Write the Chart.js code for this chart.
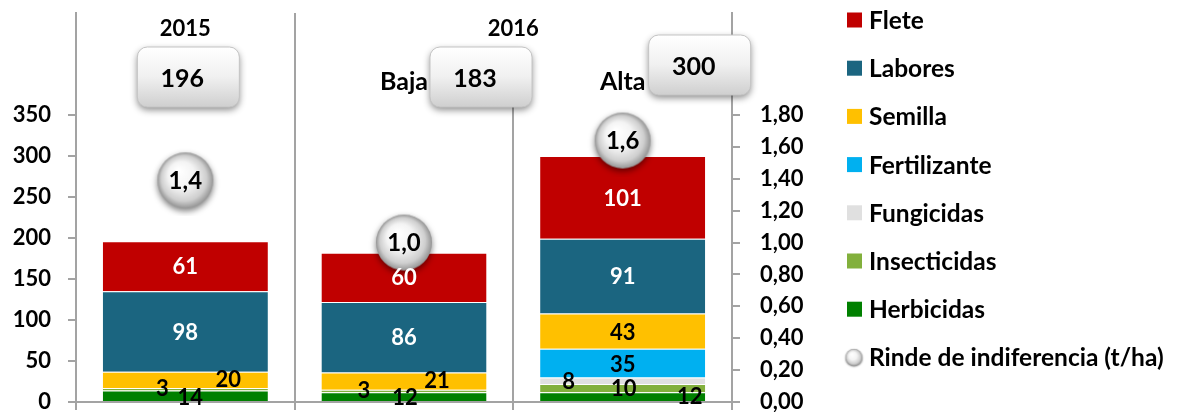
<!DOCTYPE html>
<html lang="es">
<head>
<meta charset="utf-8">
<title>Costos e indiferencia</title>
<script src="https://cdn.jsdelivr.net/npm/chart.js@4.4.1/dist/chart.umd.min.js"></script>
<style>
  html, body { margin: 0; padding: 0; background: #ffffff; }
  #wrap { width: 1184px; height: 412px; }
</style>
</head>
<body>
<div id="wrap"><canvas id="costChart" width="1184" height="412"></canvas></div>
<script>
// ============================================================================
// DATA
// ============================================================================

const categories = ['2015', 'Baja', 'Alta'];

const herbicidas = [14, 12, 12];
const insecticidas = [3, 3, 10];
const fungicidas = [0, 0, 8];
const fertilizante = [0, 0, 35];
const semilla = [20, 21, 43];
const labores = [98, 86, 91];
const flete = [61, 60, 101];

const totals = [196, 183, 300];
const rindeIndiferencia = [1.39, 1.0, 1.64];

const leftTickTop = 350;   // last labelled tick, left axis
const rightTickTop = 1.8;  // last labelled tick, right axis

// ============================================================================
// STYLE
// ============================================================================

const FONT = 'Lato, "Open Sans", sans-serif';
const AXIS_GREY = '#a3a3a3';

// nudges for the small segment labels, [dx, dy] from the segment centre
const labelNudge = {
  'Herbicidas-0': [5, 2], 'Insecticidas-0': [-23, 0], 'Semilla-0': [43, 0],
  'Herbicidas-1': [1, 1], 'Insecticidas-1': [-40, 0], 'Semilla-1': [33, 0],
  'Herbicidas-2': [67, 0], 'Insecticidas-2': [1, 1], 'Fungicidas-2': [-54, 1],
  'Fertilizante-2': [0, 2], 'Semilla-2': [0, 2]
};

/**
 * Build a shaded sphere image used as point style
 * @param {number} r - sphere radius
 * @returns {HTMLCanvasElement}
 */
function makeSphere(r) {
  const size = Math.ceil(r * 2 + 16);
  const c = document.createElement('canvas');
  c.width = size;
  c.height = size;
  const g = c.getContext('2d');
  const cx = size / 2, cy = size / 2;
  g.save();
  g.shadowColor = 'rgba(0,0,0,0.5)';
  g.shadowBlur = r * 0.22;
  g.shadowOffsetY = r * 0.1;
  const grad = g.createRadialGradient(cx - r * 0.25, cy - r * 0.35, r * 0.05, cx, cy, r);
  grad.addColorStop(0, '#ffffff');
  grad.addColorStop(0.45, '#f4f4f4');
  grad.addColorStop(0.8, '#cfcfcf');
  grad.addColorStop(1, '#959595');
  g.fillStyle = grad;
  g.beginPath();
  g.arc(cx, cy, r, 0, Math.PI * 2);
  g.fill();
  g.restore();
  return c;
}

const bigSphere = makeSphere(28);
const smallSphere = makeSphere(8.5);

/**
 * Rounded, shaded box with a number in it
 */
function drawTotalBox(ctx, cx, cy, text) {
  const w = 102, h = 60, r = 10;
  const x = cx - w / 2, y = cy - h / 2;
  ctx.save();
  ctx.shadowColor = 'rgba(0,0,0,0.45)';
  ctx.shadowBlur = 7;
  ctx.shadowOffsetY = 3;
  const grad = ctx.createLinearGradient(0, y, 0, y + h);
  grad.addColorStop(0, '#ffffff');
  grad.addColorStop(0.5, '#f0f0f0');
  grad.addColorStop(1, '#cfcfcf');
  ctx.fillStyle = grad;
  ctx.beginPath();
  ctx.roundRect(x, y, w, h, r);
  ctx.fill();
  ctx.restore();
  ctx.save();
  ctx.strokeStyle = '#c4c4c4';
  ctx.lineWidth = 1;
  ctx.beginPath();
  ctx.roundRect(x, y, w, h, r);
  ctx.stroke();
  ctx.fillStyle = '#000000';
  ctx.font = 'bold 25px ' + FONT;
  ctx.textAlign = 'center';
  ctx.textBaseline = 'middle';
  ctx.fillText(text, cx - 6, cy + 2);
  ctx.restore();
}

// ============================================================================
// PLUGIN: labels, headers, totals and legend
// ============================================================================

const decorPlugin = {
  id: 'decor',
  afterDatasetsDraw(chart) {
    const ctx = chart.ctx;
    const xScale = chart.scales.x;
    const xs = categories.map((_, i) => xScale.getPixelForValue(i));

    ctx.save();
    ctx.textAlign = 'center';
    ctx.textBaseline = 'middle';
    ctx.font = 'bold 22px ' + FONT;

    // segment labels
    chart.data.datasets.forEach((ds, di) => {
      if (ds.type === 'line') return;
      const meta = chart.getDatasetMeta(di);
      meta.data.forEach((el, i) => {
        const v = ds.data[i];
        if (!v) return;
        const nudge = labelNudge[ds.label + '-' + i] || [0, 1];
        ctx.fillStyle = ds.labelColor;
        ctx.fillText(String(v), el.x + nudge[0], (el.y + el.base) / 2 + nudge[1]);
      });
    });

    // sphere labels
    const lineIdx = chart.data.datasets.findIndex(d => d.type === 'line');
    const lineMeta = chart.getDatasetMeta(lineIdx);
    ctx.font = 'bold 24px ' + FONT;
    lineMeta.data.forEach((pt, i) => {
      ctx.fillStyle = '#000000';
      ctx.fillText(rindeIndiferencia[i].toFixed(1).replace('.', ','), pt.x, pt.y + 1);
    });

    // headers
    ctx.font = 'bold 22px ' + FONT;
    ctx.fillStyle = '#ffffff';
    ctx.fillRect((xs[1] + xs[2]) / 2 - 34, 12, 68, 36);
    ctx.fillStyle = '#000000';
    ctx.fillText('2015', xs[0], 29);
    ctx.fillText('2016', (xs[1] + xs[2]) / 2, 29);
    ctx.font = 'bold 25px ' + FONT;
    ctx.fillText('Baja', xs[1], 82);
    ctx.fillText('Alta', xs[2], 82);
    ctx.restore();

    drawTotalBox(ctx, xs[0] + 3, 77, String(totals[0]));
    drawTotalBox(ctx, xs[1] + 77, 77, String(totals[1]));
    drawTotalBox(ctx, xs[2] + 77, 65, String(totals[2]));

    // legend (reverse stacking order, sphere last)
    const items = chart.data.datasets.filter(d => d.type !== 'line').slice().reverse();
    ctx.save();
    ctx.font = 'bold 24.5px ' + FONT;
    ctx.textAlign = 'left';
    ctx.textBaseline = 'middle';
    items.forEach((ds, k) => {
      const cy = 20 + k * 48.2;
      ctx.fillStyle = ds.backgroundColor;
      ctx.fillRect(847, cy - 7.5, 15, 15);
      ctx.fillStyle = '#000000';
      ctx.fillText(ds.label, 869, cy + 1);
    });
    const cyLast = 20 + items.length * 48.2;
    ctx.drawImage(smallSphere, 854 - smallSphere.width / 2, cyLast - smallSphere.height / 2);
    ctx.fillStyle = '#000000';
    ctx.fillText(chart.data.datasets[lineIdx].label, 869, cyLast + 1);
    ctx.restore();
  }
};

// ============================================================================
// CHART
// ============================================================================

function barSet(label, data, color, labelColor) {
  return {
    type: 'bar',
    label: label,
    data: data,
    backgroundColor: color,
    borderColor: 'rgba(255,255,255,0.35)',
    borderWidth: { top: 1, bottom: 0, left: 0, right: 0 },
    borderSkipped: false,
    stack: 'costos',
    yAxisID: 'y',
    order: 1,
    labelColor: labelColor
  };
}

const chartData = {
  labels: categories,
  datasets: [
    barSet('Herbicidas', herbicidas, '#008000', '#000000'),
    barSet('Insecticidas', insecticidas, '#82b03c', '#000000'),
    barSet('Fungicidas', fungicidas, '#e0e0e0', '#000000'),
    barSet('Fertilizante', fertilizante, '#00b0f0', '#000000'),
    barSet('Semilla', semilla, '#ffc000', '#000000'),
    barSet('Labores', labores, '#1b6580', '#ffffff'),
    barSet('Flete', flete, '#c00000', '#ffffff'),
    {
      type: 'line',
      label: 'Rinde de indiferencia (t/ha)',
      data: rindeIndiferencia,
      yAxisID: 'y1',
      showLine: false,
      pointStyle: bigSphere,
      pointRadius: 28,
      clip: false,
      order: 0
    }
  ]
};

// vertical axes: fixed widths, no extra label padding top/bottom
function fitVertical(width) {
  return scale => {
    scale.width = width;
    scale.paddingTop = 0;
    scale.paddingBottom = 0;
  };
}

const options = {
  responsive: false,
  animation: false,
  layout: { autoPadding: false, padding: { top: 13, left: 0, right: 0, bottom: 0 } },
  plugins: {
    legend: { display: false },
    tooltip: { enabled: false }
  },
  datasets: {
    bar: { categoryPercentage: 1, barPercentage: 0.755 }
  },
  scales: {
    x: {
      stacked: true,
      offset: true,
      ticks: { display: false },
      grid: {
        offset: true,
        color: AXIS_GREY,
        lineWidth: 2,
        tickLength: 8,
        drawOnChartArea: true
      },
      border: { display: true, color: AXIS_GREY, width: 2 },
      afterFit: scale => {
        scale.height = 10;
        scale.paddingLeft = 0;
        scale.paddingRight = 0;
      }
    },
    y: {
      stacked: true,
      position: 'left',
      min: 0,
      max: leftTickTop * 389 / 287,
      ticks: {
        stepSize: 50,
        padding: 17,
        color: '#000000',
        font: { family: FONT, size: 22, weight: 'bold' }
      },
      afterBuildTicks: scale => {
        scale.ticks = scale.ticks.filter(t => t.value <= leftTickTop + 0.001);
      },
      grid: { drawOnChartArea: false, color: AXIS_GREY, lineWidth: 2, tickLength: 8 },
      border: { display: true, color: AXIS_GREY, width: 2 },
      afterFit: fitVertical(76)
    },
    y1: {
      position: 'right',
      min: 0,
      max: rightTickTop * 389 / 287,
      ticks: {
        stepSize: 0.2,
        padding: 20,
        color: '#000000',
        font: { family: FONT, size: 22, weight: 'bold' },
        callback: value => Number(value).toFixed(2).replace('.', ',')
      },
      afterBuildTicks: scale => {
        scale.ticks = scale.ticks.filter(t => t.value <= rightTickTop + 0.001);
      },
      grid: { drawOnChartArea: false, color: AXIS_GREY, lineWidth: 2, tickLength: 8 },
      border: { display: true, color: AXIS_GREY, width: 2 },
      afterFit: fitVertical(1184 - 732)
    }
  }
};

new Chart(document.getElementById('costChart').getContext('2d'), {
  type: 'bar',
  data: chartData,
  options: options,
  plugins: [decorPlugin]
});
</script>
</body>
</html>
